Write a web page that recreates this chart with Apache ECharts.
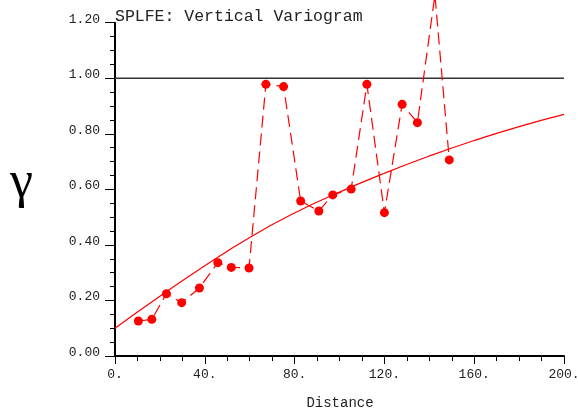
<!DOCTYPE html>
<html>
<head>
<meta charset="utf-8">
<script src="https://cdn.jsdelivr.net/npm/echarts@6/dist/echarts.min.js"></script>
<style>
html,body{margin:0;padding:0;background:#fff;}
#chart{width:578px;height:416px;}
</style>
</head>
<body>
<div id="chart"></div>
<script>
// Experimental variogram (lag distance, gamma)
var lagDistance = [10.4, 16.4, 22.9, 29.7, 37.6, 45.8, 51.8, 59.7, 67.2, 75.1, 82.7, 90.8, 97.0, 105.2, 112.2, 120.0, 127.9, 134.7, 142.5, 148.9];
var gammaValues = [0.126, 0.132, 0.224, 0.192, 0.245, 0.336, 0.319, 0.317, 0.978, 0.970, 0.558, 0.522, 0.580, 0.601, 0.978, 0.516, 0.906, 0.840, 1.30, 0.706];
// Model curve
var modelDistance = [0, 20, 40, 60, 80, 100, 120, 140, 160, 180, 200];
var modelGamma = [0.10, 0.215, 0.325, 0.427, 0.515, 0.59, 0.658, 0.72, 0.776, 0.826, 0.87];
// Sill
var sillDistance = [0, 200];
var sillValue = 1.0;
var xTicks = [0, 40, 80, 120, 160, 200];
var yTicks = [0.0, 0.2, 0.4, 0.6, 0.8, 1.0, 1.2];

var expData = lagDistance.map(function (d, i) { return [d, gammaValues[i]]; });
var modelData = modelDistance.map(function (d, i) { return [d, modelGamma[i]]; });
var sillData = sillDistance.map(function (d) { return [d, sillValue]; });

var mono = 'Liberation Mono';
var chart = echarts.init(document.getElementById('chart'), null, { renderer: 'canvas' });
chart.setOption({
  animation: false,
  backgroundColor: '#fff',
  title: {
    text: 'SPLFE: Vertical Variogram',
    left: 115, top: 8, padding: 0,
    textStyle: { fontFamily: mono, fontSize: 16.5, fontWeight: 'normal', color: '#222' }
  },
  grid: { left: 115, right: 14, top: 22.7, bottom: 60, containLabel: false, outerBoundsMode: 'none' },
  xAxis: {
    type: 'value', min: xTicks[0], max: xTicks[xTicks.length - 1], interval: 40,
    axisLine: { show: true, onZero: false, lineStyle: { color: '#000', width: 2 } },
    axisTick: { show: true, length: 8, lineStyle: { color: '#000', width: 1 } },
    minorTick: { show: true, splitNumber: 4, length: 5, lineStyle: { color: '#000', width: 1 } },
    splitLine: { show: false },
    axisLabel: {
      margin: 12, fontFamily: mono, fontSize: 13, color: '#222', hideOverlap: false,
      formatter: function (v) { return v + '.'; }
    }
  },
  yAxis: {
    type: 'value', min: yTicks[0], max: yTicks[yTicks.length - 1], interval: 0.2,
    axisLine: { show: true, onZero: false, lineStyle: { color: '#000', width: 2 } },
    axisTick: { show: true, length: 10, lineStyle: { color: '#000', width: 1 } },
    minorTick: { show: true, splitNumber: 4, length: 5, lineStyle: { color: '#000', width: 1 } },
    splitLine: { show: false },
    axisLabel: {
      margin: 15, fontFamily: mono, fontSize: 13, color: '#222',
      verticalAlign: 'bottom', lineHeight: 7,
      formatter: function (v) { return v.toFixed(2); }
    }
  },
  graphic: [
    { type: 'text', left: 10, top: 157, style: { text: 'γ', font: '52px "Liberation Serif"', fill: '#000' } },
    { type: 'text', x: 340, y: 403, style: { text: 'Distance', font: '14px "Liberation Mono"', fill: '#222', align: 'center', verticalAlign: 'middle' } }
  ],
  series: [
    {
      type: 'line', data: sillData, symbol: 'none', silent: true,
      lineStyle: { color: '#333', width: 1.5 }
    },
    {
      type: 'line', data: modelData, smooth: true, symbol: 'none', silent: true,
      lineStyle: { color: '#ff0000', width: 1.2 }
    },
    {
      type: 'line', data: expData, clip: false,
      symbol: 'circle', symbolSize: 9,
      itemStyle: { color: '#ff0000' },
      lineStyle: { color: '#ff0000', width: 1.2, type: [12, 6] }
    }
  ]
});
</script>
</body>
</html>
